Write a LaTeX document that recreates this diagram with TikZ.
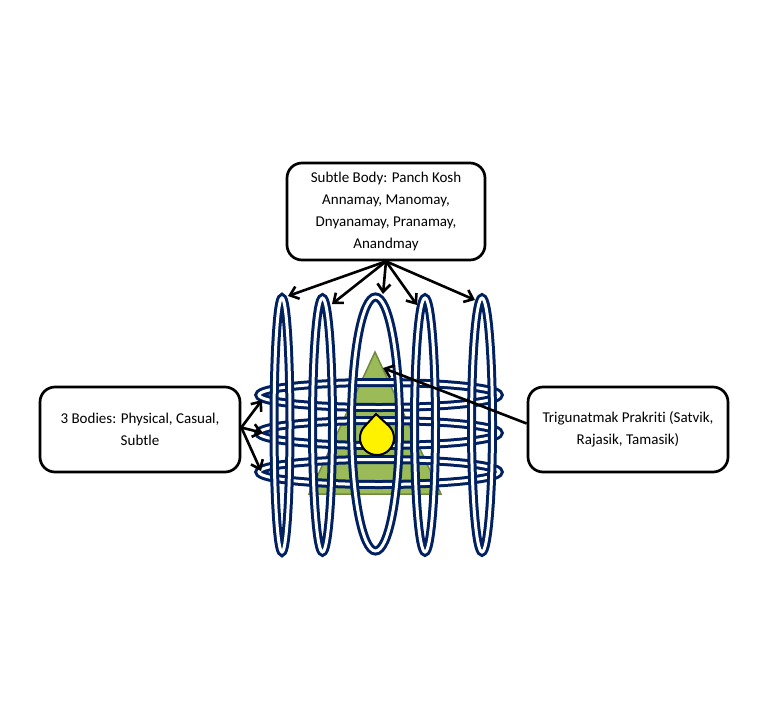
\documentclass[tikz,border=0pt]{standalone}
\usepackage{fontspec}
\setmainfont{Carlito}[Ligatures={NoCommon}]
\usetikzlibrary{arrows.meta}
\definecolor{ringblue}{HTML}{002060}
\definecolor{trifill}{HTML}{9BBB59}
\definecolor{triedge}{HTML}{71893F}
\tikzset{
  ring/.style={draw=ringblue, line width=3pt, double=white, double distance=3pt},
  textbox/.style={draw=black, line width=2.7pt, rounded corners=15pt, fill=white,
    align=center, font=\fontsize{15}{22}\selectfont, inner sep=0pt},
  arr/.style={draw=black, line width=2.6pt, -{Straight Barb[length=8pt,width=13pt]}}
}
\begin{document}
\begin{tikzpicture}[x=1pt,y=-1pt]
\useasboundingbox (0,0) rectangle (768,720);
% triangle
\filldraw[fill=trifill, draw=triedge, line width=1.5pt] (375,352) -- (441,494) -- (309,494) -- cycle;
% horizontal rings
\draw[ring] (379,395) ellipse [x radius=120, y radius=12.5];
\draw[ring] (379,433) ellipse [x radius=120, y radius=12.5];
\draw[ring] (379,472) ellipse [x radius=120, y radius=12.5];
% vertical ellipses
\draw[ring] (282,425) ellipse [x radius=8, y radius=127];
\draw[ring] (322.5,425) ellipse [x radius=10, y radius=127];
\draw[ring] (375.5,424) ellipse [x radius=24, y radius=127];
\draw[ring] (425,425) ellipse [x radius=10.5, y radius=127];
\draw[ring] (482,425) ellipse [x radius=10.5, y radius=127];
% drop
\filldraw[fill=yellow, draw=black, line width=2pt] (376,414) -- (389,426) arc[start angle=-45, end angle=225, radius=17] -- cycle;
% boxes
\node[textbox, minimum width=198pt, minimum height=97pt] (top) at (386,211.5)
  {Subtle Body: Panch Kosh\\Annamay, Manomay,\\Dnyanamay, Pranamay,\\Anandmay};
\node[textbox, minimum width=200pt, minimum height=85pt] (lbox) at (140,429.5)
  {3 Bodies: Physical, Casual,\\Subtle};
\node[textbox, minimum width=200pt, minimum height=85pt] (rbox) at (628,429.5)
  {Trigunatmak Prakriti (Satvik,\\Rajasik, Tamasik)};
% arrow targets
\coordinate (t1) at (288,296);
\coordinate (t2) at (332,304);
\coordinate (t3) at (383,294);
\coordinate (t4) at (417,305);
\coordinate (t5) at (475,300);
\coordinate (l1) at (262,400);
\coordinate (l2) at (263,433);
\coordinate (l3) at (261,471);
\coordinate (apex) at (383,368);
\foreach \t in {t1,t2,t3,t4,t5} \draw[arr] (top.south) -- (\t);
\foreach \t in {l1,l2,l3} \draw[arr] ([yshift=2pt]lbox.east) -- (\t);
\draw[arr] ([yshift=6pt]rbox.west) -- (apex);
\end{tikzpicture}
\end{document}
